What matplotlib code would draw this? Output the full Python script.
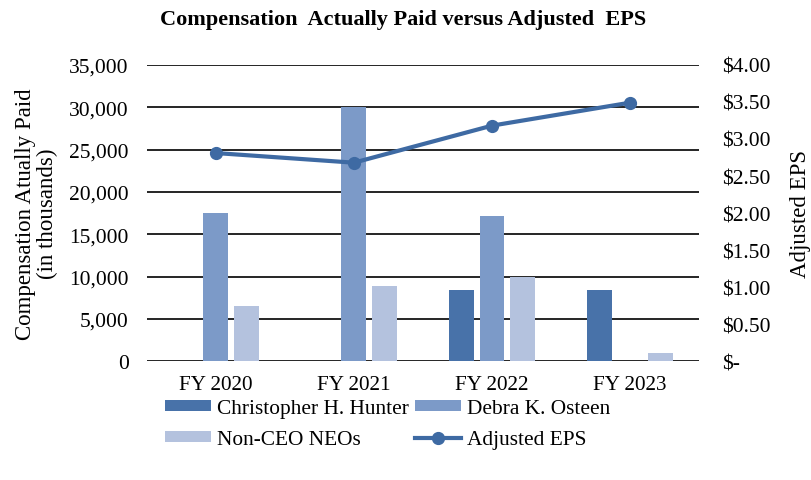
import matplotlib
matplotlib.use("Agg")
import matplotlib.pyplot as plt
import numpy as np
from matplotlib.ticker import FuncFormatter

plt.rcParams['font.family'] = ['Liberation Serif', 'DejaVu Serif']

categories = ["FY 2020", "FY 2021", "FY 2022", "FY 2023"]
hunter = [0, 0, 8400, 8400]
osteen = [17500, 30000, 17100, 0]
non_ceo = [6500, 8850, 9950, 1000]
adj_eps = [2.81, 2.68, 3.18, 3.49]

c_hunter = '#4872A9'
c_osteen = '#7C9AC8'
c_nonceo = '#B4C2DE'
c_line = '#3E6AA3'

fig = plt.figure(figsize=(8.11, 4.81), dpi=100)
ax = fig.add_axes([0.181, 0.247, 0.681, 0.616])
x = np.arange(len(categories))
w = 0.18
off = 0.22
ax.bar(x - off, hunter, w, color=c_hunter, label='Christopher H. Hunter', zorder=3)
ax.bar(x, osteen, w, color=c_osteen, label='Debra K. Osteen', zorder=3)
ax.bar(x + off, non_ceo, w, color=c_nonceo, label='Non-CEO NEOs', zorder=3)
ax.set_xlim(-0.5, 3.5)
ax.set_ylim(0, 35000)
ax.set_yticks(np.arange(0, 35001, 5000))
ax.yaxis.set_major_formatter(FuncFormatter(lambda v, p: f"{int(v):,}"))
ax.grid(axis='y', color='black', linewidth=1.2, zorder=0)
for s in ax.spines.values():
    s.set_visible(False)
ax.tick_params(axis='y', length=0, labelsize=15.5, pad=13)
ax.tick_params(axis='x', length=0, labelsize=15.2, pad=10)
ax.set_xticks(x)
ax.set_xticklabels(categories)
ax.set_ylabel("Compensation Atually Paid\n(in thousands)", fontsize=16.5, linespacing=1.05)
ax.yaxis.set_label_coords(-0.161, 0.5)

ax2 = ax.twinx()
ax2.plot(x, adj_eps, color=c_line, linewidth=3, marker='o', markersize=8.5, label='Adjusted EPS', zorder=4)
ax2.set_ylim(0, 4)
ax2.set_yticks(np.arange(0, 4.01, 0.5))
ax2.yaxis.set_major_formatter(FuncFormatter(lambda v, p: "$-" if v == 0 else f"${v:.2f}"))
for s in ax2.spines.values():
    s.set_visible(False)
ax2.tick_params(length=0, labelsize=15.5, pad=16.5)
ax2.set_ylabel("Adjusted EPS", fontsize=16.5)
ax2.yaxis.set_label_coords(1.165, 0.5)

fig.text(0.497, 0.958, "Compensation  Actually Paid versus Adjusted  EPS", fontsize=16,
         fontweight='bold', ha='center', va='center')

h1, l1 = ax.get_legend_handles_labels()
h2, l2 = ax2.get_legend_handles_labels()
handles = [h1[0], h1[2], h1[1], h2[0]]
labels = [l1[0], l1[2], l1[1], l2[0]]
fig.legend(handles, labels, ncol=2, loc='center', bbox_to_anchor=(0.478, 0.116),
           frameon=False, fontsize=15.4, handlelength=2.15, handleheight=0.37,
           columnspacing=0.28, handletextpad=0.28, labelspacing=0.55, borderpad=0)

fig.savefig("out.png", dpi=100)
